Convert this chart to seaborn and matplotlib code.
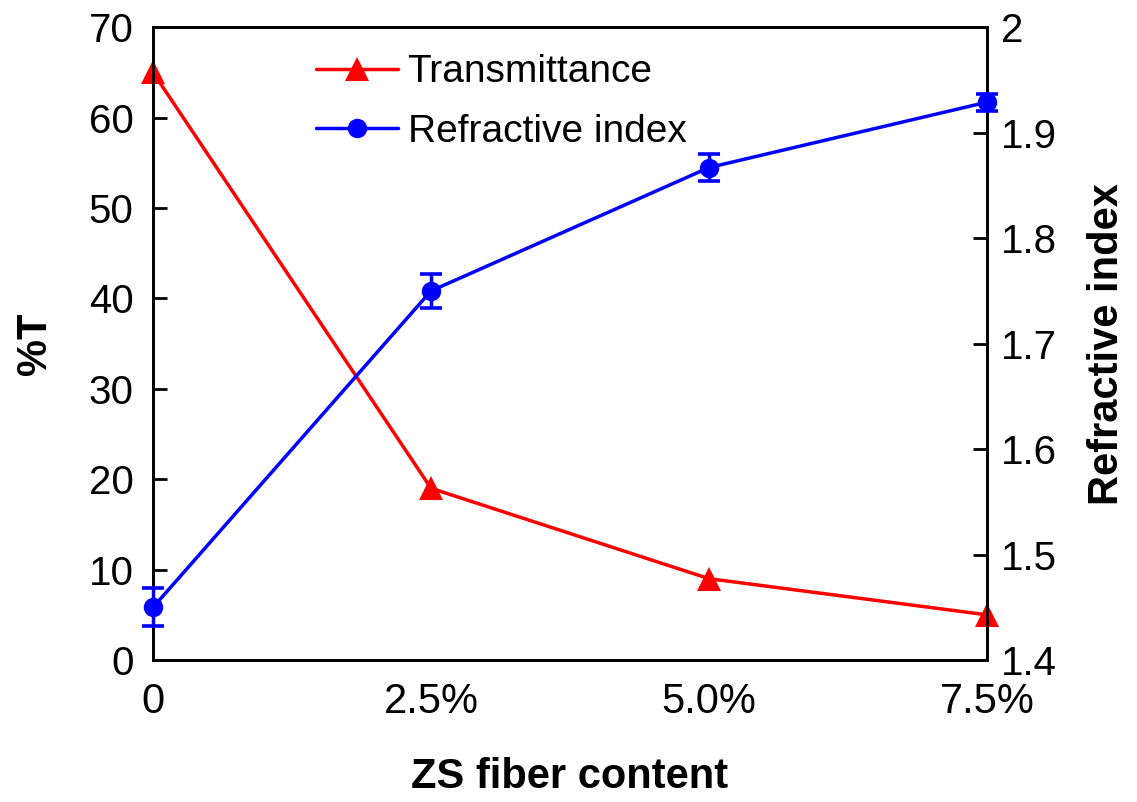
import matplotlib
matplotlib.use("Agg")
import matplotlib.pyplot as plt
import seaborn as sns
import numpy as np
import pandas as pd
from matplotlib.lines import Line2D

categories = ["0", "2.5%", "5.0%", "7.5%"]
transmittance = [65, 19, 9, 5]
refractive = [1.45, 1.75, 1.867, 1.929]
refractive_err = [0.018, 0.016, 0.013, 0.008]
left_ticks = [0, 10, 20, 30, 40, 50, 60, 70]
right_ticks = [1.4, 1.5, 1.6, 1.7, 1.8, 1.9, 2.0]

sns.set_style("white")
plt.rcParams['font.family'] = ['Liberation Sans', 'DejaVu Sans']
plt.rcParams['text.color'] = 'black'
plt.rcParams['axes.labelcolor'] = 'black'
plt.rcParams['xtick.color'] = 'black'
plt.rcParams['ytick.color'] = 'black'

df = pd.DataFrame({"pos": np.arange(len(categories)),
                   "T": transmittance, "n": refractive, "err": refractive_err})

fig = plt.figure(figsize=(11.37, 8.02), dpi=100)
ax = fig.add_axes([0.1346, 0.177, 0.7335, 0.789])
ax2 = ax.twinx()

sns.lineplot(data=df, x="pos", y="T", ax=ax, color="#ff0000", linewidth=2.5,
             marker="^", markersize=17, markeredgewidth=0, clip_on=False, zorder=3)
sns.lineplot(data=df, x="pos", y="n", ax=ax2, color="#0000ff", linewidth=2.5,
             marker="o", markersize=14, markeredgewidth=0, clip_on=False, zorder=3)
ax2.errorbar(df["pos"], df["n"], yerr=df["err"], fmt="none", ecolor="#0000ff",
             elinewidth=2.5, capsize=8, capthick=2.6, clip_on=False, zorder=3)

ax.set_xlim(0, 3)
ax.set_ylim(0, 70)
ax2.set_ylim(1.4, 2.0)
ax.set_xticks(df["pos"])
ax.set_xticklabels(categories)
ax.set_yticks(left_ticks)
ax2.set_yticks(right_ticks)
ax2.set_yticklabels([f"{v:g}" for v in right_ticks])

ax.tick_params(axis="x", length=0, pad=16, labelsize=30)
ax.tick_params(axis="y", direction="in", length=10, width=2, pad=14, labelsize=29, left=True)
ax2.tick_params(axis="y", direction="in", length=10, width=2, pad=10, labelsize=29, right=True)

for a in (ax, ax2):
    for s in a.spines.values():
        s.set_visible(True)
        s.set_color("black")
        s.set_linewidth(2)

ax.set_xlabel("ZS fiber content", fontsize=30, fontweight="bold", labelpad=25)
ax.set_ylabel("%T", fontsize=30, fontweight="bold", labelpad=24)
ax2.set_ylabel("Refractive index", fontsize=30, fontweight="bold", labelpad=22)

handles = [Line2D([], [], color="#ff0000", lw=2.5, marker="^", markersize=17, markeredgewidth=0),
           Line2D([], [], color="#0000ff", lw=2.5, marker="o", markersize=14, markeredgewidth=0)]
ax.legend(handles, ["Transmittance", "Refractive index"], loc="upper left",
          bbox_to_anchor=(0.163, 1.0), frameon=False, fontsize=28,
          handlelength=2.1, handletextpad=0.25, labelspacing=0.6, borderpad=0.2)

fig.savefig("out.png", dpi=100)
